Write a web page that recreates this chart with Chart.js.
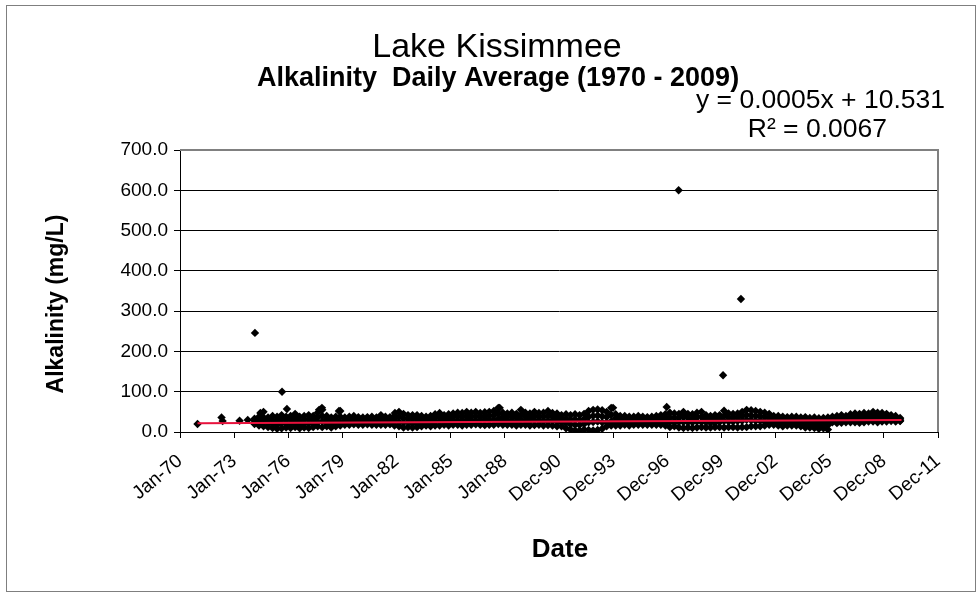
<!DOCTYPE html>
<html><head><meta charset="utf-8">
<script src="https://cdn.jsdelivr.net/npm/chart.js@4.4.0/dist/chart.umd.min.js"></script>
<style>html,body{margin:0;padding:0;background:#fff;}canvas{display:block;}</style>
</head><body>
<canvas id="c" width="978" height="595"></canvas>
<script>
// ---- data ----
const xTickLabels = ["Jan-70","Jan-73","Jan-76","Jan-79","Jan-82","Jan-85","Jan-88","Dec-90","Dec-93","Dec-96","Dec-99","Dec-02","Dec-05","Dec-08","Dec-11"];
const yTicks = [0,100,200,300,400,500,600,700];
const years = [1974,1975,1976,1977,1978,1979,1980,1981,1982,1983,1984,1985,1986,1987,1988,1989,1990,1991,1992,1993,1994,1995,1996,1997,1998,1999,2000,2001,2002,2003,2004,2005,2006,2007,2008,2009];
// quarterly levels of the dense daily-average cloud (mg/L): top, upper, middle, bottom
const hi = [
 33,38,50,36, 40,38,42,38, 40,45,38,40, 42,40,48,55, 40,36,38,52, 36,38,40,37,
 36,37,38,36, 42,38,37,40, 50,45,42,42, 42,40,38,40, 44,47,42,44, 46,48,47,50,
 48,50,47,49, 50,52,60,48, 46,48,45,55, 48,46,50,47, 48,52,47,46, 42,44,42,44,
 42,45,52,55, 56,54,50,60, 44,40,40,38, 38,40,38,37, 38,40,42,44, 48,46,45,50,
 45,44,48,50, 42,40,42,42, 53,46,45,46, 50,55,54,52, 50,48,45,40, 40,38,37,38,
 38,36,37,35, 36,34,35,36, 38,40,42,40, 44,46,45,47, 46,50,48,47, 45,42,40,35];
const upper = [
 28,30,36,30, 30,28,32,30, 30,34,28,30, 32,30,36,40, 32,28,30,38, 30,31,32,30,
 30,30,32,30, 34,31,30,33, 38,34,33,32, 33,31,31,32, 35,37,34,35, 37,38,38,40,
 39,39,38,40, 40,41,46,38, 37,38,36,42, 38,36,40,38, 38,40,38,36, 33,33,31,31,
 30,32,38,40, 41,39,37,43, 34,31,31,30, 30,32,30,29, 30,32,34,34, 36,35,35,38,
 35,34,37,38, 33,32,33,34, 40,36,36,37, 39,42,41,40, 39,37,35,31, 31,30,28,30,
 30,28,28,26, 27,25,26,26, 33,33,35,35, 37,38,38,40, 39,42,40,39, 38,36,34,32];
const mid = [
 22,22,24,22, 20,18,22,20, 20,23,18,20, 22,20,24,26, 22,20,20,23, 23,24,25,23,
 24,23,25,24, 25,24,23,26, 25,23,24,21, 23,21,23,24, 25,27,26,25, 28,27,28,30,
 30,28,29,30, 30,30,32,28, 28,27,26,30, 28,27,29,28, 27,28,28,26, 24,22,19,18,
 18,20,24,25, 26,24,24,26, 24,23,22,22, 22,24,23,22, 23,24,25,24, 25,24,25,25,
 24,24,26,25, 24,23,23,25, 27,26,26,27, 28,30,29,28, 28,26,25,22, 22,22,20,22,
 22,20,20,18, 18,16,18,17, 27,26,27,29, 30,30,31,32, 32,33,32,31, 32,30,28,28];
const lo = [
 20,16,14,12, 10,8,9,11, 10,12,9,11, 10,12,14,12, 14,11,14,16, 18,18,19,18,
 18,19,18,18, 18,18,19,16, 14,11,12,11, 12,14,16,14, 16,16,18,16, 18,18,16,18,
 18,19,18,17, 18,18,20,18, 18,18,16,18, 18,16,17,18, 16,17,16,14, 14,9,6,4,
 4,6,5,4, 5,8,14,16, 16,16,18,16, 18,18,18,18, 18,18,18,16, 12,14,11,10,
 11,10,11,12, 11,11,12,12, 11,12,12,11, 12,12,14,14, 14,16,18,18, 16,14,16,16,
 16,14,11,11, 10,8,9,6, 24,22,23,24, 24,24,23,24, 26,26,24,26, 26,27,26,27];
// sparse early samples and outliers (decimal year, mg/L)
const extraDates  = [1970.97,1972.30,1972.36,1973.30,1973.75,1974.15,1974.45,1975.65,1975.92,1977.70,1977.86,1978.80,1981.90,1987.70,1993.98,1996.95,1997.61,2000.07,2001.06];
const extraValues = [20,36,27,28,30,246,47,100,57,55,60,52,47,60,60,62,600,141,330];
// linear trend line end points (y = 0.0005x + 10.531)
const trendDates  = [1970.97, 2009.95];
const trendValues = [22, 29.5];

// ---- build ----
const FONT = '"Liberation Sans", Arial, sans-serif';
const EPOCH = 25569, STEP = 1095;
function serial(y){ return EPOCH + (y - 1970) * 365.25; }
const cloud = [];
years.forEach((yr, i) => {
  for (let q = 0; q < 4; q++) {
    const k = i * 4 + q, x = serial(yr + (q + 0.5) / 4);
    cloud.push({x, y: lo[k]}, {x, y: mid[k]}, {x, y: upper[k]}, {x, y: hi[k]});
  }
});
extraDates.forEach((d, i) => cloud.push({x: serial(d), y: extraValues[i]}));
const trend = trendDates.map((d, i) => ({x: serial(d), y: trendValues[i]}));

const decor = {
  id: 'decor',
  beforeDraw(chart) {
    const c = chart.ctx;
    c.save();
    c.fillStyle = '#fff'; c.fillRect(0, 0, 978, 595);
    c.strokeStyle = '#7f7f7f'; c.lineWidth = 1;
    c.strokeRect(6.5, 5.5, 969, 586);
    c.restore();
  },
  afterDraw(chart) {
    const c = chart.ctx, a = chart.chartArea;
    c.save();
    c.strokeStyle = '#808080'; c.lineWidth = 2;
    c.beginPath();
    c.moveTo(a.left, a.top); c.lineTo(a.right, a.top); c.lineTo(a.right, a.bottom);
    c.stroke();
    c.fillStyle = '#000';
    c.textAlign = 'center'; c.textBaseline = 'alphabetic';
    c.font = '34px ' + FONT;
    c.fillText('Lake Kissimmee', 497, 57);
    c.font = 'bold 27px ' + FONT;
    c.fillText('Alkalinity  Daily Average (1970 - 2009)', 498, 86);
    c.textAlign = 'right';
    c.font = '26.5px ' + FONT;
    c.fillText('y = 0.0005x + 10.531', 945, 108);
    c.fillText('R² = 0.0067', 887, 137);
    c.textAlign = 'center';
    c.font = 'bold 26px ' + FONT;
    c.fillText('Date', 560, 557);
    c.translate(57, 304); c.rotate(-Math.PI / 2);
    c.font = 'bold 23px ' + FONT;
    c.textBaseline = 'middle';
    c.fillText('Alkalinity (mg/L)', 0, 0);
    c.restore();
  }
};

new Chart(document.getElementById('c'), {
  type: 'scatter',
  data: { datasets: [
    { type: 'line', data: trend, borderColor: '#e8113c', borderWidth: 2, pointRadius: 0, fill: false, order: 0 },
    { data: cloud, pointStyle: 'rectRot', pointRadius: 4.2, backgroundColor: '#000', borderColor: '#000', borderWidth: 0, order: 1 }
  ]},
  options: {
    responsive: false, animation: false, devicePixelRatio: 1,
    layout: { padding: { top: 150, right: 40, left: 0, bottom: 0 } },
    plugins: { legend: { display: false }, tooltip: { enabled: false }, title: { display: false } },
    scales: {
      x: {
        type: 'linear', min: EPOCH, max: EPOCH + STEP * (xTickLabels.length - 1),
        afterBuildTicks: s => { s.ticks = xTickLabels.map((l, i) => ({ value: EPOCH + i * STEP })); },
        afterFit: s => { s.height = 163; },
        ticks: { autoSkip: false, maxRotation: 40, minRotation: 40, padding: 12, color: '#000',
                 font: { family: FONT, size: 19 }, callback: (v, i) => xTickLabels[i] },
        grid: { drawOnChartArea: false, drawTicks: true, tickLength: 6, color: '#000' },
        border: { color: '#000', width: 1 }
      },
      y: {
        min: 0, max: 700,
        afterBuildTicks: s => { s.ticks = yTicks.map(v => ({ value: v })); },
        afterFit: s => { s.width = 180; },
        ticks: { padding: 6, color: '#000', font: { family: FONT, size: 19 }, callback: v => v.toFixed(1) },
        grid: { color: '#000', lineWidth: 1, tickLength: 6 },
        border: { color: '#000', width: 1 }
      }
    }
  },
  plugins: [decor]
});
</script>
</body></html>
